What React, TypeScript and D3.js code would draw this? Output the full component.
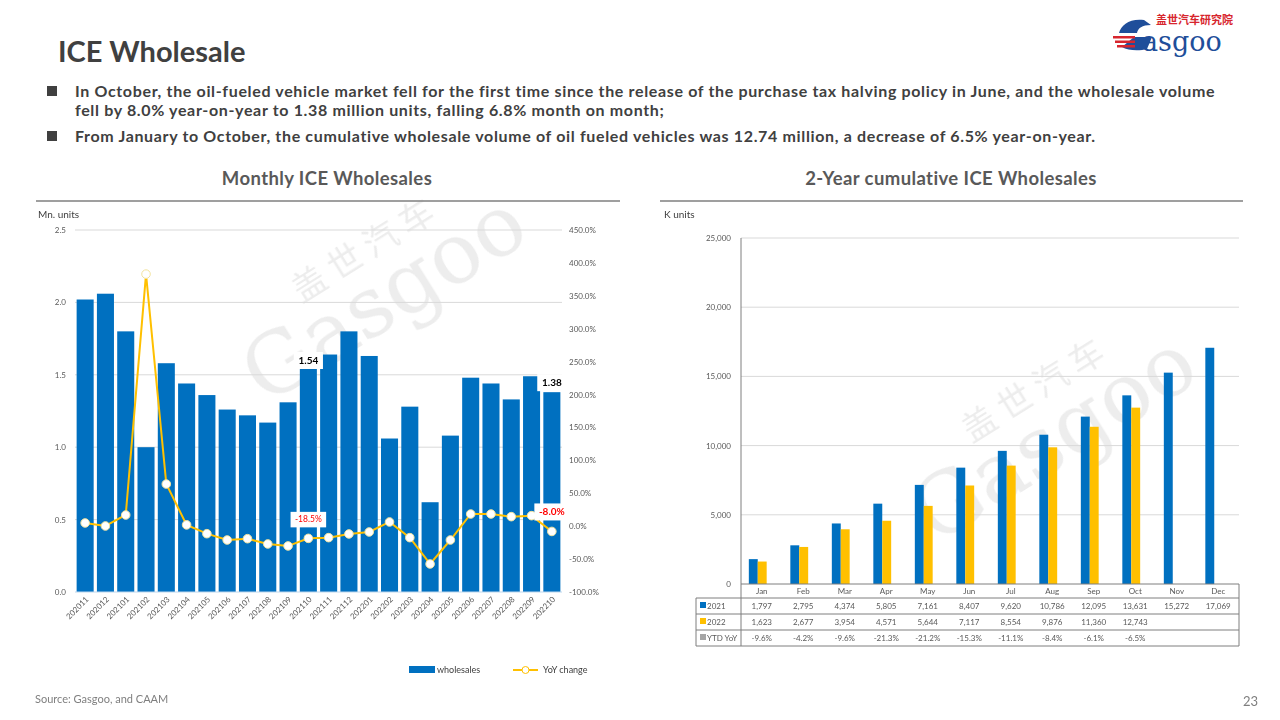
import React from "react";
import * as d3 from "d3";

const months = ["202011","202012","202101","202102","202103","202104","202105","202106","202107","202108","202109","202110","202111","202112","202201","202202","202203","202204","202205","202206","202207","202208","202209","202210"];
const wholesales = [2.02,2.06,1.80,1.00,1.58,1.44,1.36,1.26,1.22,1.17,1.31,1.54,1.64,1.80,1.63,1.06,1.28,0.62,1.08,1.48,1.44,1.33,1.49,1.38];
const yoy = [4.9,0.3,17,383,64,2,-11.4,-21,-19,-27,-30,-18.5,-17.4,-11.8,-8.8,6.4,-17.4,-57.4,-21,18.5,18.5,14.5,16,-8.0];
const leftTicks = [0, 0.5, 1.0, 1.5, 2.0, 2.5];
const rightTicks = [-100,-50,0,50,100,150,200,250,300,350,400,450];

const monthNames = ["Jan","Feb","Mar","Apr","May","Jun","Jul","Aug","Sep","Oct","Nov","Dec"];
const cum2021 = [1797,2795,4374,5805,7161,8407,9620,10786,12095,13631,15272,17069];
const cum2022 = [1623,2677,3954,4571,5644,7117,8554,9876,11360,12743];
const ytdYoY = ["-9.6%","-4.2%","-9.6%","-21.3%","-21.2%","-15.3%","-11.1%","-8.4%","-6.1%","-6.5%"];
const cumTicks = [0,5000,10000,15000,20000,25000];

const BLUE = "#0070C0";
const YEL = "#FFC000";
const FONT = "Lato, 'Open Sans', sans-serif";

export default function App() {
  // Left chart
  const lx = d3.scaleBand<string>().domain(months).range([75, 562]).paddingInner(0.16).paddingOuter(0.08);
  const ly = d3.scaleLinear().domain([0, 2.5]).range([592, 230]);
  const ry = d3.scaleLinear().domain([-100, 450]).range([592, 230]);
  const linePath = d3.line<number>()
    .x((_, i) => (lx(months[i]) as number) + lx.bandwidth() / 2)
    .y((d) => ry(d))(yoy) as string;

  // Right chart
  const cx = d3.scaleBand<string>().domain(monthNames).range([741, 1239]);
  const cxBars = d3.scaleBand<string>().domain(monthNames).range([737, 1235]).paddingInner(0.57).paddingOuter(0.285);
  const cy = d3.scaleLinear().domain([0, 25000]).range([584, 238]);
  const fmt = d3.format(",");
  const bw = cxBars.bandwidth() / 2;

  const rowY = [584, 598, 614, 630, 646];

  const label = (i: number, text: string, yPos: number, color: string, fs: number, bold: boolean) => {
    const cxp = (lx(months[i]) as number) + lx.bandwidth() / 2;
    const w = text.length * fs * 0.58 + 6;
    return (
      <g key={text}>
        <rect x={cxp - w / 2} y={yPos - fs - 1} width={w} height={fs + 7} fill="#fff" />
        <text x={cxp} y={yPos + 1} textAnchor="middle" fontSize={fs} fontWeight={bold ? 700 : 400} fill={color}>{text}</text>
      </g>
    );
  };

  return (
    <svg width={1280} height={720} style={{ position: "absolute", left: 0, top: 0 }} fontFamily={FONT}>
      <rect width={1280} height={720} fill="#fff" />

      {/* header */}
      <text x={58} y={62} fontSize={29} fontWeight={700} fill="#404040">ICE Wholesale</text>
      <g fontSize={16} fontWeight={700} fill="#404040" letterSpacing={0.65}>
        <rect x={47} y={86} width={10} height={10} fill="#404040" />
        <text x={75} y={97}>In October, the oil-fueled vehicle market fell for the first time since the release of the purchase tax halving policy in June, and the wholesale volume</text>
        <text x={75} y={116}>fell by 8.0% year-on-year to 1.38 million units, falling 6.8% month on month;</text>
        <rect x={47} y={131} width={10} height={10} fill="#404040" />
        <text x={75} y={142}>From January to October, the cumulative wholesale volume of oil fueled vehicles was 12.74 million, a decrease of 6.5% year-on-year.</text>
      </g>

      {/* logo */}
      <g>
        <text x={1156} y={24} fontSize={11} fontWeight={700} fill="#d7262e" fontFamily="'Noto Sans CJK SC', sans-serif">盖世汽车研究院</text>
        <text x={1142} y={51} fontSize={27} fill="#1f4e9a" fontFamily="'DejaVu Serif', serif">asgoo</text>
        <path d="M1144,20 C1130,18 1121,25 1119,33 L1137,33 C1138,28 1142,25 1151,25 Z" fill="#1f4e9a" />
        <path d="M1134,37 L1152,37 L1147,49 C1140,51 1128,51 1122,47 Z" fill="#1f4e9a" />
        <rect x={1113} y={36} width={22} height={2.5} fill="#d7262e" />
        <rect x={1115} y={40.5} width={20} height={2.5} fill="#d7262e" />
        <rect x={1117} y={45} width={18} height={2.5} fill="#d7262e" />
      </g>

      {/* subtitles */}
      <text x={327} y={185} textAnchor="middle" fontSize={18.5} fontWeight={700} fill="#595959" letterSpacing={0.4}>Monthly  ICE Wholesales</text>
      <text x={951} y={185} textAnchor="middle" fontSize={18.5} fontWeight={700} fill="#595959" letterSpacing={0.4}>2-Year cumulative  ICE Wholesales</text>
      <line x1={36} x2={620} y1={201} y2={201} stroke="#7f7f7f" strokeWidth={1.5} />
      <line x1={660} x2={1243} y1={201} y2={201} stroke="#7f7f7f" strokeWidth={1.5} />

      {/* watermarks */}
      <g opacity={0.16} fill="#8a8a8a">
        <g transform="translate(330,330) rotate(-32)">
          <text x={-10} y={-38} fontSize={34} fontFamily="'Noto Sans CJK SC', sans-serif" letterSpacing={8}>盖世汽车</text>
          <text x={-95} y={30} fontSize={84} fontFamily="'DejaVu Serif', serif">Gasgoo</text>
        </g>
        <g transform="translate(1000,470) rotate(-32)">
          <text x={-10} y={-38} fontSize={34} fontFamily="'Noto Sans CJK SC', sans-serif" letterSpacing={8}>盖世汽车</text>
          <text x={-95} y={30} fontSize={84} fontFamily="'DejaVu Serif', serif">Gasgoo</text>
        </g>
      </g>

      {/* LEFT CHART */}
      <text x={38} y={218} fontSize={10} fill="#404040">Mn. units</text>
      {leftTicks.map((t) => (
        <g key={"l" + t}>
          {t !== 0 && <line x1={75} x2={562} y1={ly(t)} y2={ly(t)} stroke="#d9d9d9" strokeWidth={1} />}
          <text x={66} y={ly(t) + 3} textAnchor="end" fontSize={8} fill="#595959">{t.toFixed(1)}</text>
        </g>
      ))}
      {rightTicks.map((t) => (
        <text key={"r" + t} x={569} y={ry(t) + 3} fontSize={8} fill="#595959">{t.toFixed(1) + "%"}</text>
      ))}
      {wholesales.map((v, i) => (
        <rect key={"b" + i} x={lx(months[i])} y={ly(v)} width={lx.bandwidth()} height={ly(0) - ly(v)} fill={BLUE} />
      ))}
      <line x1={75} x2={562} y1={592} y2={592} stroke="#bdd7ee" strokeWidth={1} />
      <path d={linePath} fill="none" stroke={YEL} strokeWidth={2} />
      {yoy.map((v, i) => (
        <circle key={"c" + i} cx={(lx(months[i]) as number) + lx.bandwidth() / 2} cy={ry(v)} r={4.3} fill="#fff" stroke="#f2e3a0" strokeWidth={1} />
      ))}
      {months.map((m) => {
        const x = (lx(m) as number) + lx.bandwidth() / 2;
        return (
          <text key={"x" + m} transform={`translate(${x + 4},${600}) rotate(-45)`} textAnchor="end" fontSize={8} fill="#595959">{m}</text>
        );
      })}
      {label(11, "1.54", ly(1.54) - 6, "#000", 10, true)}
      {label(23, "1.38", ly(1.38) - 7, "#000", 10, true)}
      {label(11, "-18.5%", ry(-18.5) - 17, "#ff0000", 8.5, false)}
      {label(23, "-8.0%", ry(-8.0) - 17, "#ff0000", 10, true)}

      {/* left legend */}
      <rect x={409} y={666} width={26} height={7} fill={BLUE} />
      <text x={437} y={673} fontSize={9} fill="#404040">wholesales</text>
      <line x1={513} x2={538} y1={670} y2={670} stroke={YEL} strokeWidth={2} />
      <circle cx={525.5} cy={670} r={3.5} fill="#fff" stroke={YEL} strokeWidth={1} />
      <text x={543} y={673} fontSize={9} fill="#404040">YoY change</text>

      {/* RIGHT CHART */}
      <text x={664} y={218} fontSize={10} fill="#404040">K units</text>
      {cumTicks.map((t) => (
        <g key={"ct" + t}>
          {t !== 0 && <line x1={741} x2={1239} y1={cy(t)} y2={cy(t)} stroke="#d9d9d9" strokeWidth={1} />}
          <text x={731} y={cy(t) + 3} textAnchor="end" fontSize={8} fill="#595959">{fmt(t)}</text>
        </g>
      ))}
      <line x1={741} x2={741} y1={238} y2={584} stroke="#7f7f7f" strokeWidth={1} />
      {cum2021.map((v, i) => (
        <rect key={"a" + i} x={cxBars(monthNames[i])} y={cy(v)} width={bw} height={cy(0) - cy(v)} fill={BLUE} />
      ))}
      {cum2022.map((v, i) => (
        <rect key={"y" + i} x={(cxBars(monthNames[i]) as number) + bw} y={cy(v)} width={bw} height={cy(0) - cy(v)} fill={YEL} />
      ))}

      {/* table */}
      <g stroke="#7f7f7f" strokeWidth={1} fill="none">
        <line x1={741} x2={1239} y1={rowY[0]} y2={rowY[0]} />
        <line x1={696} x2={1239} y1={rowY[1]} y2={rowY[1]} />
        <line x1={696} x2={1239} y1={rowY[2]} y2={rowY[2]} />
        <line x1={696} x2={1239} y1={rowY[3]} y2={rowY[3]} />
        <line x1={696} x2={1239} y1={rowY[4]} y2={rowY[4]} />
        <line x1={696} x2={696} y1={rowY[1]} y2={rowY[4]} />
        <line x1={741} x2={741} y1={rowY[0]} y2={rowY[4]} />
        <line x1={1239} x2={1239} y1={rowY[0]} y2={rowY[4]} />
      </g>
      <g fontSize={8} fill="#595959" textAnchor="middle">
        {monthNames.map((m) => {
          const x = (cx(m) as number) + cx.bandwidth() / 2;
          return <text key={"mn" + m} x={x} y={594}>{m}</text>;
        })}
        {cum2021.map((v, i) => (
          <text key={"t1" + i} x={(cx(monthNames[i]) as number) + cx.bandwidth() / 2} y={609}>{fmt(v)}</text>
        ))}
        {cum2022.map((v, i) => (
          <text key={"t2" + i} x={(cx(monthNames[i]) as number) + cx.bandwidth() / 2} y={625}>{fmt(v)}</text>
        ))}
        {ytdYoY.map((v, i) => (
          <text key={"t3" + i} x={(cx(monthNames[i]) as number) + cx.bandwidth() / 2} y={641}>{v}</text>
        ))}
      </g>
      <g fontSize={8} fill="#595959">
        <rect x={700} y={602} width={6} height={6} fill={BLUE} />
        <text x={707} y={609}>2021</text>
        <rect x={700} y={618} width={6} height={6} fill={YEL} />
        <text x={707} y={625}>2022</text>
        <rect x={700} y={634} width={6} height={6} fill="#a5a5a5" />
        <text x={707} y={641}>YTD YoY</text>
      </g>

      {/* footer */}
      <text x={35} y={703} fontSize={11} fill="#7f7f7f">Source: Gasgoo, and CAAM</text>
      <text x={1258} y={706} fontSize={13} fill="#7f7f7f" textAnchor="end">23</text>
    </svg>
  );
}
